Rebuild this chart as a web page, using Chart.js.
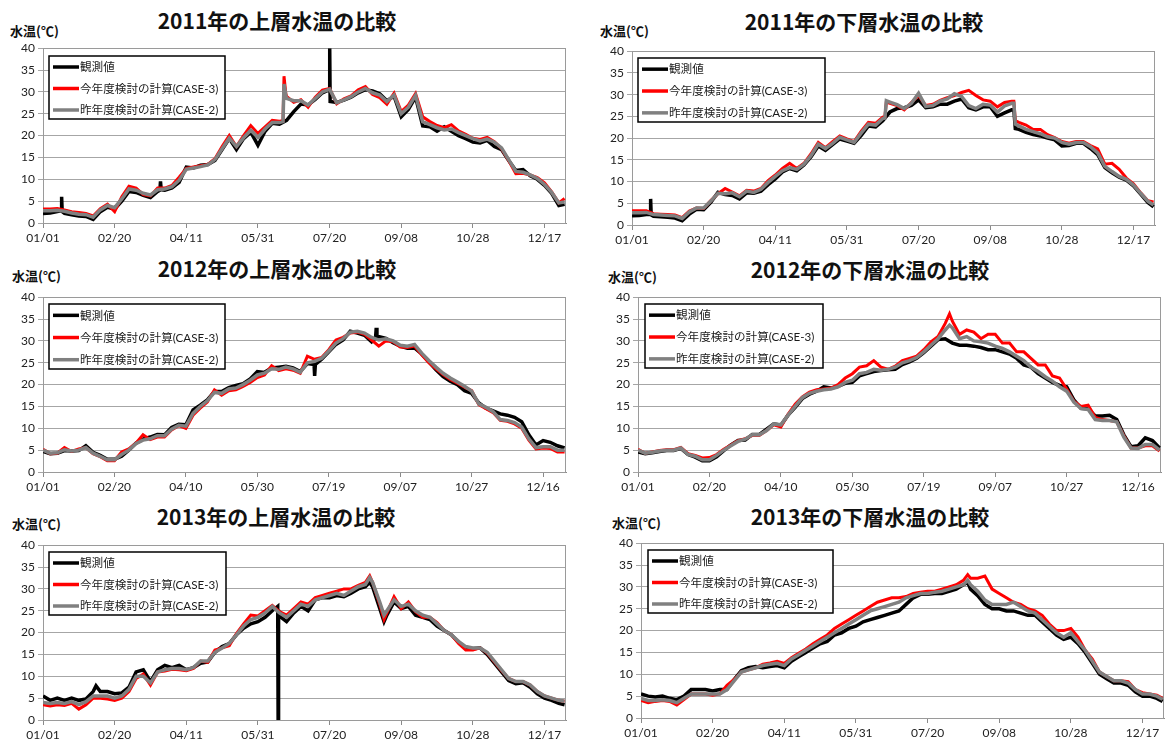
<!DOCTYPE html>
<html lang="ja">
<head>
<meta charset="utf-8">
<title>上層・下層水温の比較</title>
<script src="https://cdn.jsdelivr.net/npm/chart.js@4.4.1/dist/chart.umd.min.js"></script>
<style>
  html, body { margin: 0; padding: 0; background: #fff; width: 1165px; height: 740px; overflow: hidden; }
  canvas { position: absolute; }
  .title {
    position: absolute; white-space: nowrap; line-height: 1; color: #111;
    font-family: 'Noto Sans CJK JP', sans-serif; font-weight: bold; font-size: 21px;
    transform: translate(-50%, -50%);
  }
  .unit {
    position: absolute; white-space: nowrap; line-height: 1; color: #111;
    font-family: 'Noto Sans CJK JP', sans-serif; font-weight: bold; font-size: 13px;
    transform: translateY(-50%);
  }
</style>
</head>
<body>
<script>
// ---- x positions (day of year) of the sampled values ----
const DAYS_365 = [0,5,10,15,20,25,30,35,40,45,50,55,60,65,70,75,80,85,90,95,
  100,105,110,115,120,125,130,135,140,145,150,155,160,165,170,175,180,185,190,195,
  200,205,210,215,220,225,230,235,240,245,250,255,260,265,270,275,280,285,290,295,
  300,305,310,315,320,325,330,335,340,345,350,355,360,364];
const DAYS_366 = [0,5,10,15,20,25,30,35,40,45,50,55,60,65,70,75,80,85,90,95,
  100,105,110,115,120,125,130,135,140,145,150,155,160,165,170,175,180,185,190,195,
  200,205,210,215,220,225,230,235,240,245,250,255,260,265,270,275,280,285,290,295,
  300,305,310,315,320,325,330,335,340,345,350,355,360,365];

// ---- x axis ticks ----
const TICK_DAYS = [0, 50, 100, 150, 200, 250, 300, 350];
const TICKS_2011 = ['01/01','02/20','04/11','05/31','07/20','09/08','10/28','12/17'];
const TICKS_2012 = ['01/01','02/20','04/10','05/30','07/19','09/07','10/27','12/16'];
const TICKS_2013 = ['01/01','02/20','04/11','05/31','07/20','09/08','10/28','12/17'];

const SERIES_LABELS = ['観測値', '今年度検討の計算(CASE-3)', '昨年度検討の計算(CASE-2)'];

// ---- 2011 upper layer ----
const obs2011U = [2.2,2.3,2.6,2.2,1.9,1.6,1.5,0.8,2.6,3.6,
  3.2,5.0,7.2,7.0,6.3,5.8,7.2,7.5,8.0,9.3,
  12.8,12.6,13.2,13.4,14.3,16.8,19.3,16.8,19.3,20.8,
  17.8,21.0,22.8,22.6,23.5,25.5,27.2,27.0,28.3,29.8,
  30.5,27.6,28.1,28.8,29.8,30.5,30.2,29.6,28.0,29.0,
  24.3,26.0,28.8,22.2,22.0,21.0,22.0,21.0,20.0,19.3,
  18.5,18.3,18.9,17.5,16.8,14.3,12.0,12.2,10.8,10.0,
  8.6,6.8,4.0,4.3];
const case3_2011U = [3.2,3.2,3.3,3.0,2.6,2.4,2.2,1.6,3.3,4.3,
  2.6,6.0,8.4,8.0,6.5,6.2,8.0,8.0,8.6,10.5,
  12.5,12.8,13.1,13.4,14.7,17.5,20.0,17.5,20.0,22.3,
  20.5,22.0,23.5,23.3,29.0,27.6,28.2,26.5,28.8,30.4,
  30.8,27.3,28.4,29.1,30.5,31.2,29.4,28.7,27.2,29.7,
  25.5,27.0,29.6,24.3,23.2,22.3,21.8,22.5,21.1,20.3,
  19.4,19.1,19.6,18.6,17.0,14.3,11.3,11.4,11.0,10.4,
  9.2,7.1,4.6,5.6];
const case2_2011U = [2.8,2.8,2.9,2.7,2.3,2.0,1.9,1.3,3.0,4.0,
  3.5,5.5,7.8,7.5,6.8,6.4,7.6,7.8,8.3,9.8,
  12.3,12.6,12.9,13.3,14.5,17.0,19.4,17.5,19.5,21.2,
  19.6,21.5,23.0,23.0,28.5,28.0,28.0,27.0,28.5,30.0,
  30.6,27.5,28.2,28.9,30.0,30.8,29.8,29.3,27.8,29.3,
  25.0,26.5,29.2,23.2,22.5,21.8,21.3,21.5,20.7,20.0,
  19.3,18.8,19.2,18.5,17.2,14.5,11.8,11.6,11.0,10.2,
  8.8,7.0,4.6,4.8];
const obsPeaks2011U = [[12.6,2.8],[13,6.0],[13.4,2.6],[81.6,7.5],[82,9.5],[82.5,7.6],[200.1,40],[200.4,27.8]];
const case3Peaks2011U = [[167.5,23.4],[168.2,33.6],[169.5,29.5]];
const case2Peaks2011U = [[167.5,23.2],[168.2,31.8],[169.5,29.2]];

// ---- 2011 lower layer ----
const obs2011L = [2.1,2.2,2.4,2.0,1.9,1.8,1.6,1.0,2.5,3.6,
  3.5,5.2,7.5,7.0,6.8,6.0,7.4,7.3,7.8,9.3,
  10.6,12.2,13.0,12.5,13.8,15.7,18.2,17.2,18.5,19.8,
  19.3,18.8,20.6,22.8,22.6,24.0,26.0,26.8,27.0,27.5,
  28.8,27.0,27.2,27.8,27.8,28.5,29.0,27.0,26.5,27.2,
  27.2,25.0,25.8,26.5,22.0,21.3,20.8,20.5,20.0,19.6,
  18.2,18.3,18.8,18.8,17.6,16.2,13.2,12.0,11.0,10.3,
  9.0,7.1,5.2,4.2];
const case3_2011L = [3.3,3.3,3.3,2.6,2.5,2.4,2.3,1.7,3.2,3.9,
  3.8,5.6,7.2,8.4,7.6,6.7,8.0,7.8,8.4,10.2,
  11.5,13.0,14.2,13.0,14.2,16.4,19.0,17.8,19.2,20.5,
  19.8,19.2,21.6,23.6,23.4,24.8,28.0,27.5,26.5,28.2,
  29.8,27.5,27.8,28.7,29.3,29.8,30.5,31.0,29.8,28.8,
  28.5,27.2,28.2,28.5,23.6,23.0,22.0,22.0,20.8,20.1,
  19.2,18.8,19.2,19.2,18.3,17.5,14.0,14.2,12.8,10.8,
  9.5,7.4,5.6,5.3];
const case2_2011L = [2.8,2.8,2.9,2.4,2.3,2.2,2.1,1.5,3.0,3.9,
  3.9,5.5,7.3,7.2,7.4,6.5,7.8,7.5,8.2,9.8,
  11.2,12.5,13.2,12.8,14.0,16.0,18.6,17.6,18.8,20.2,
  19.6,19.0,21.2,23.2,23.0,24.5,28.3,27.7,26.8,28.0,
  30.3,27.3,27.5,28.5,29.0,30.2,29.6,27.5,26.8,27.8,
  27.6,26.0,27.4,28.0,22.8,22.0,21.5,21.0,20.3,20.0,
  19.0,18.6,19.0,19.0,18.0,16.6,13.5,12.3,11.2,10.5,
  9.2,7.3,5.5,4.6];
const obsPeaks2011L = [[12.6,2.5],[13,6.0],[13.4,2.3],[266.5,26.5],[267.5,22.2]];
const case3Peaks2011L = [[176.5,24.9],[177.5,28.3],[266.5,28.5],[267.5,24.0]];
const case2Peaks2011L = [[176.5,24.6],[177.5,28.6],[266.5,28.0],[267.5,23.2]];

// ---- 2012 upper layer ----
const obs2012U = [4.7,4.2,4.3,4.9,4.8,4.9,6.0,4.5,3.8,2.9,
  2.9,3.6,5.0,6.6,7.5,8.0,8.6,8.5,10.2,10.9,
  10.8,14.2,15.3,16.5,18.4,18.4,19.3,19.8,20.2,21.3,
  23.0,22.8,23.8,24.0,24.2,23.8,23.0,24.8,24.5,25.8,
  27.5,29.2,30.2,32.2,31.8,31.3,29.8,31.0,30.6,29.6,
  28.8,28.3,28.4,27.0,25.2,23.4,21.8,20.8,20.0,18.6,
  18.0,15.8,14.6,14.0,13.3,13.0,12.5,11.5,8.5,6.2,
  7.2,6.8,6.0,5.5];
const case3_2012U = [5.2,4.2,4.3,5.6,4.7,5.3,5.6,4.2,3.5,2.6,
  2.6,4.6,5.3,6.6,8.5,7.4,8.0,8.0,9.6,10.6,
  10.0,13.0,14.6,16.0,18.8,17.6,18.6,18.8,19.6,20.5,
  21.6,22.2,24.3,23.2,23.6,23.3,22.6,26.5,25.8,26.2,
  28.0,30.2,30.8,31.8,32.0,31.5,30.2,28.8,30.0,29.8,
  28.6,28.5,28.8,26.8,25.0,23.6,22.3,21.2,20.3,19.4,
  18.6,15.4,14.5,13.6,11.8,11.6,11.0,10.0,7.3,5.3,
  5.5,5.4,4.6,4.6];
const case2_2012U = [5.0,4.3,4.4,5.1,4.8,5.0,5.6,4.3,3.6,2.8,
  2.8,4.0,5.0,6.5,7.3,7.6,8.3,8.3,9.8,10.7,
  10.5,13.4,15.0,16.3,18.2,18.0,19.0,19.2,20.0,21.0,
  22.2,22.6,23.6,23.5,24.0,23.6,22.8,25.0,25.3,26.0,
  27.7,29.5,30.5,32.0,32.2,31.8,30.8,30.2,30.5,30.0,
  29.0,28.8,29.2,27.2,25.5,24.0,22.6,21.5,20.6,19.6,
  18.5,15.6,14.8,13.8,12.0,11.8,11.3,10.3,7.6,5.6,
  5.8,5.8,5.0,5.0];
const obsPeaks2012U = [[189.7,24.6],[190.2,22.0],[190.6,24.6],[232.7,30.6],[233.2,33.0],[233.7,30.8]];
const case3Peaks2012U = [];
const case2Peaks2012U = [];

// ---- 2012 lower layer ----
const obs2012L = [4.6,4.2,4.4,4.7,4.9,4.9,5.4,4.0,3.4,2.6,
  2.6,3.5,4.9,6.2,7.2,7.3,8.6,8.6,9.8,11.0,
  10.7,13.0,14.8,16.8,17.8,18.5,19.5,19.2,19.6,20.3,
  20.5,22.0,22.5,23.0,23.2,23.4,23.5,24.6,25.2,26.0,
  27.3,28.8,30.3,30.5,29.5,29.0,29.0,28.8,28.5,28.0,
  28.0,27.5,27.0,26.0,24.5,24.0,22.5,21.5,20.5,19.8,
  19.5,16.5,14.6,14.5,12.8,12.8,13.0,12.0,8.5,5.8,
  6.0,7.8,7.2,5.5];
const case3_2012L = [5.2,4.3,4.6,4.9,5.1,5.1,5.6,4.2,3.8,3.2,
  3.3,4.0,5.2,6.2,7.2,7.6,8.4,8.4,9.5,10.8,
  10.3,13.2,15.5,17.2,18.3,18.8,19.0,19.2,20.0,21.5,
  22.5,24.0,24.3,25.5,24.0,23.5,24.2,25.5,26.0,26.5,
  28.0,29.8,31.0,34.0,34.5,31.5,32.5,32.0,30.5,31.5,
  31.5,29.5,29.5,27.5,27.5,26.0,24.5,24.5,22.0,21.5,
  19.0,16.2,15.0,15.3,12.5,12.0,11.8,11.5,8.3,5.5,
  5.5,6.0,6.0,4.8];
const case2_2012L = [5.0,4.3,4.5,4.8,5.0,5.0,5.5,4.0,3.6,2.8,
  2.8,3.8,5.0,6.0,7.0,7.5,8.5,8.5,9.5,11.0,
  10.8,13.0,15.0,17.0,18.0,18.5,18.8,19.0,19.5,20.5,
  21.0,22.5,22.8,23.5,23.3,23.5,24.0,25.0,25.5,26.2,
  27.5,29.0,30.5,32.5,33.0,30.5,31.0,30.0,29.8,29.5,
  28.8,28.3,27.5,26.5,25.5,24.0,23.0,21.8,20.8,19.5,
  18.5,16.0,14.5,14.3,12.0,11.8,11.8,11.5,8.0,5.5,
  5.4,6.3,6.3,5.0];
const obsPeaks2012L = [];
const case3Peaks2012L = [[218,36.2]];
const case2Peaks2012L = [[218,33.6]];

// ---- 2013 upper layer ----
const obs2013U = [5.5,4.5,5.0,4.5,5.0,4.5,4.8,6.5,6.5,6.5,
  6.0,6.2,7.5,11.0,11.5,8.8,11.5,12.5,12.0,12.5,
  11.5,12.0,13.0,13.3,15.5,16.8,17.5,19.5,21.0,22.0,
  22.5,23.5,25.0,23.8,22.5,24.5,26.0,25.0,27.5,28.0,
  28.0,28.5,28.2,29.0,30.0,30.5,30.5,25.5,24.0,27.0,
  25.5,26.0,24.0,23.5,23.0,21.5,20.5,19.5,17.8,16.5,
  16.3,16.5,15.0,13.0,11.0,9.0,8.3,8.5,7.5,6.0,
  5.0,4.5,3.8,3.5];
const case3_2013U = [3.5,3.2,3.5,3.3,3.8,2.5,3.5,5.0,5.0,4.8,
  4.5,5.0,6.5,9.5,10.5,8.0,11.0,11.2,11.6,11.5,
  11.3,11.8,13.5,13.2,16.0,16.5,17.0,19.8,22.0,24.0,
  23.8,25.0,26.2,24.8,24.0,25.5,27.0,26.5,28.0,28.5,
  29.0,29.5,30.0,30.0,30.8,31.5,31.5,26.5,24.5,28.2,
  25.5,27.0,24.8,23.5,23.5,22.3,20.5,19.5,17.5,16.0,
  16.0,16.5,15.3,13.3,11.3,9.5,8.8,8.8,8.0,6.5,
  5.5,5.0,4.5,4.3];
const case2_2013U = [4.0,3.8,4.0,3.8,4.2,3.5,4.2,5.5,5.5,5.5,
  5.0,5.5,7.0,10.0,10.0,8.5,11.0,11.5,11.8,11.8,
  11.5,12.0,13.5,13.5,15.5,16.5,17.5,19.5,21.5,23.0,
  23.5,24.5,26.0,24.5,23.5,25.0,26.5,26.0,27.5,28.0,
  28.5,29.0,28.5,29.5,30.5,31.0,31.5,27.0,25.0,27.5,
  26.0,26.5,25.0,24.0,23.5,22.0,20.5,19.5,18.0,16.8,
  16.5,16.5,15.5,13.5,11.5,9.5,8.8,8.8,8.0,6.5,
  5.5,5.0,4.5,4.3];
const obsPeaks2013U = [[37,7.8],[163.8,26.0],[164.1,0],[164.4,25.2],[228,31.5],[238,22.5]];
const case3Peaks2013U = [[228,33.0],[238,23.0]];
const case2Peaks2013U = [[228,32.6],[238,24.0]];

// ---- 2013 lower layer ----
const obs2013L = [5.5,5.0,4.8,5.0,4.5,4.2,5.0,6.5,6.5,6.5,
  6.2,6.5,6.5,8.8,10.8,11.5,11.8,11.5,11.8,12.0,
  11.5,13.0,14.0,15.0,16.0,17.0,17.5,19.0,19.5,20.5,
  21.0,22.0,22.5,23.0,23.5,24.0,24.5,26.0,27.5,28.3,
  28.3,28.5,28.5,29.0,29.5,30.5,29.5,28.0,26.0,25.0,
  25.0,24.5,24.5,24.0,23.5,23.5,22.0,20.5,19.0,18.0,
  18.5,17.0,15.0,12.5,10.0,9.0,8.0,8.0,7.5,6.0,
  5.0,5.0,4.5,3.8];
const case3_2013L = [4.0,3.5,3.8,4.0,3.8,3.0,4.2,5.5,5.5,5.5,
  5.2,5.5,7.5,8.8,10.5,11.0,11.5,12.3,12.6,13.0,
  12.5,13.8,14.8,15.8,17.0,18.0,19.0,20.5,21.5,22.5,
  23.5,24.5,25.5,26.5,27.0,27.5,27.5,27.8,28.5,28.8,
  29.0,29.0,29.5,30.0,30.5,31.5,32.0,32.0,32.5,29.5,
  28.5,27.5,26.5,26.0,25.0,24.5,23.5,21.5,20.0,20.0,
  20.5,18.5,15.5,13.5,10.5,9.5,8.5,8.5,8.3,6.5,
  5.8,5.5,5.2,4.5];
const case2_2013L = [4.5,4.0,4.0,4.2,4.0,3.5,4.5,5.5,5.5,5.5,
  5.5,5.5,6.5,8.5,10.5,11.0,11.5,12.0,12.3,12.5,
  12.0,13.5,14.5,15.5,16.5,17.5,18.5,19.5,20.5,21.5,
  22.5,23.5,24.5,25.0,25.5,26.0,26.5,27.5,28.0,28.5,
  28.5,28.8,29.0,29.5,30.0,30.5,30.5,29.0,27.0,26.0,
  26.0,26.0,26.5,25.5,24.5,24.0,22.5,21.0,19.5,18.5,
  19.5,17.5,15.5,13.0,10.5,9.5,8.5,8.5,8.0,6.5,
  5.5,5.5,5.0,4.3];
const obsPeaks2013L = [[228,31.0]];
const case3Peaks2013L = [[228,32.8]];
const case2Peaks2013L = [[228,31.5]];

// ---- panel layout (page pixels) ----
const FONT = "Lato, 'Noto Sans CJK JP', sans-serif";
const AXIS_W = 45, AXIS_H = 26, PAD_TOP = 10, PAD_RIGHT = 2;

const panels = [
  { title: '2011年の上層水温の比較', days: DAYS_365, xMax: 365, labels: TICKS_2011,
    series: [obs2011U, case3_2011U, case2_2011U], peaks: [obsPeaks2011U, case3Peaks2011U, case2Peaks2011U],
    area: { l: 43, t: 48, r: 566, b: 223 }, titleAt: [277, 20], unitAt: [10, 30],
    legend: { x: 49, y: 56, w: 176, h: 63 } },
  { title: '2011年の下層水温の比較', days: DAYS_365, xMax: 365, labels: TICKS_2011,
    series: [obs2011L, case3_2011L, case2_2011L], peaks: [obsPeaks2011L, case3Peaks2011L, case2Peaks2011L],
    area: { l: 632, t: 51, r: 1155, b: 225 }, titleAt: [864, 21], unitAt: [600, 30],
    legend: { x: 638, y: 58, w: 187, h: 64 } },
  { title: '2012年の上層水温の比較', days: DAYS_366, xMax: 366, labels: TICKS_2012,
    series: [obs2012U, case3_2012U, case2_2012U], peaks: [obsPeaks2012U, case3Peaks2012U, case2Peaks2012U],
    area: { l: 43, t: 297, r: 566, b: 472 }, titleAt: [277, 268], unitAt: [12, 275],
    legend: { x: 49, y: 304, w: 176, h: 65 } },
  { title: '2012年の下層水温の比較', days: DAYS_366, xMax: 366, labels: TICKS_2012,
    series: [obs2012L, case3_2012L, case2_2012L], peaks: [obsPeaks2012L, case3Peaks2012L, case2Peaks2012L],
    area: { l: 638, t: 297, r: 1161, b: 472 }, titleAt: [870, 269], unitAt: [608, 276],
    legend: { x: 645, y: 304, w: 178, h: 64 } },
  { title: '2013年の上層水温の比較', days: DAYS_365, xMax: 365, labels: TICKS_2013,
    series: [obs2013U, case3_2013U, case2_2013U], peaks: [obsPeaks2013U, case3Peaks2013U, case2Peaks2013U],
    area: { l: 43, t: 545, r: 566, b: 720 }, titleAt: [276, 516], unitAt: [12, 523],
    legend: { x: 49, y: 552, w: 177, h: 63 } },
  { title: '2013年の下層水温の比較', days: DAYS_365, xMax: 365, labels: TICKS_2013,
    series: [obs2013L, case3_2013L, case2_2013L], peaks: [obsPeaks2013L, case3Peaks2013L, case2Peaks2013L],
    area: { l: 641, t: 543, r: 1164, b: 718 }, titleAt: [870, 516], unitAt: [612, 522],
    legend: { x: 648, y: 550, w: 185, h: 63 } }
];

const COLORS = ['#000000', '#ff0000', '#808080'];
const WIDTHS = [3.5, 3, 3.5];
const ORDERS = [3, 2, 1]; // observed drawn first, CASE-2 on top

function buildPoints(days, values, extra) {
  const pts = days.map((d, i) => ({ x: d, y: values[i] }));
  extra.forEach(([d, v]) => pts.push({ x: d, y: v }));
  pts.sort((a, b) => a.x - b.x);
  return pts;
}

// plot frame and boxed legend drawn inside the plot area
const framePlugin = {
  id: 'frameBox',
  beforeDatasetsDraw(chart) {
    const { ctx, chartArea: a } = chart;
    ctx.save();
    ctx.strokeStyle = '#9a9a9a';
    ctx.lineWidth = 1;
    ctx.strokeRect(Math.round(a.left) + 0.5, Math.round(a.top) + 0.5,
                   Math.round(a.right - a.left) - 1, Math.round(a.bottom - a.top));
    ctx.restore();
  },
  afterDraw(chart, args, opts) {
    const { ctx } = chart;
    const b = opts.box;
    if (!b) return;
    const x = b.x - opts.originX, y = b.y - opts.originY;
    ctx.save();
    ctx.fillStyle = '#ffffff';
    ctx.fillRect(x, y, b.w, b.h);
    ctx.strokeStyle = '#000000';
    ctx.lineWidth = 1.5;
    ctx.strokeRect(x, y, b.w, b.h);
    const rows = [11, 32.5, 54];
    chart.data.datasets.forEach((ds, i) => {
      const ry = y + rows[i] * b.h / 63;
      ctx.strokeStyle = ds.borderColor;
      ctx.lineWidth = 3.5;
      ctx.beginPath();
      ctx.moveTo(x + 4, ry);
      ctx.lineTo(x + 30, ry);
      ctx.stroke();
      ctx.fillStyle = '#1a1a1a';
      ctx.font = '11.6px ' + FONT;
      ctx.textBaseline = 'middle';
      ctx.textAlign = 'left';
      ctx.fillText(ds.label, x + 31, ry + 0.5);
    });
    ctx.restore();
  }
};

panels.forEach((p) => {
  const a = p.area;
  const originX = a.l - AXIS_W, originY = a.t - PAD_TOP;

  const title = document.createElement('div');
  title.className = 'title';
  title.textContent = p.title;
  title.style.left = p.titleAt[0] + 'px';
  title.style.top = p.titleAt[1] + 'px';
  document.body.appendChild(title);

  const unit = document.createElement('div');
  unit.className = 'unit';
  unit.textContent = '水温(℃)';
  unit.style.left = p.unitAt[0] + 'px';
  unit.style.top = p.unitAt[1] + 'px';
  document.body.appendChild(unit);

  const canvas = document.createElement('canvas');
  const w = a.r - a.l + AXIS_W + PAD_RIGHT, h = a.b - a.t + PAD_TOP + AXIS_H;
  canvas.width = w; canvas.height = h;
  canvas.style.width = w + 'px'; canvas.style.height = h + 'px';
  canvas.style.left = originX + 'px';
  canvas.style.top = originY + 'px';
  document.body.appendChild(canvas);

  new Chart(canvas, {
    type: 'line',
    data: {
      datasets: p.series.map((vals, i) => ({
        label: SERIES_LABELS[i],
        data: buildPoints(p.days, vals, p.peaks[i]),
        borderColor: COLORS[i],
        backgroundColor: COLORS[i],
        borderWidth: WIDTHS[i],
        order: ORDERS[i],
        pointRadius: 0,
        tension: 0,
        fill: false
      }))
    },
    options: {
      responsive: false,
      animation: false,
      devicePixelRatio: 1,
      events: [],
      layout: { padding: { left: 0, top: PAD_TOP, right: PAD_RIGHT, bottom: 0 } },
      scales: {
        x: {
          type: 'linear', min: 0, max: p.xMax,
          afterBuildTicks: (s) => { s.ticks = TICK_DAYS.map(v => ({ value: v })); },
          afterFit: (s) => { s.height = AXIS_H; },
          ticks: {
            autoSkip: false, maxRotation: 0, minRotation: 0, padding: 3,
            color: '#222', font: { family: FONT, size: 12 },
            callback: (v, idx) => p.labels[idx]
          },
          grid: { drawOnChartArea: false, drawTicks: true, tickLength: 5, color: '#8a8a8a' },
          border: { color: '#8a8a8a', width: 1 }
        },
        y: {
          min: 0, max: 40,
          afterFit: (s) => { s.width = AXIS_W; },
          ticks: { stepSize: 5, padding: 3, color: '#222', font: { family: FONT, size: 12 } },
          grid: { color: '#a6a6a6', lineWidth: 1, tickLength: 5 },
          border: { color: '#8a8a8a', width: 1 }
        }
      },
      plugins: {
        legend: { display: false },
        tooltip: { enabled: false },
        frameBox: { box: p.legend, originX, originY }
      }
    },
    plugins: [framePlugin]
  });
});
</script>
</body>
</html>
